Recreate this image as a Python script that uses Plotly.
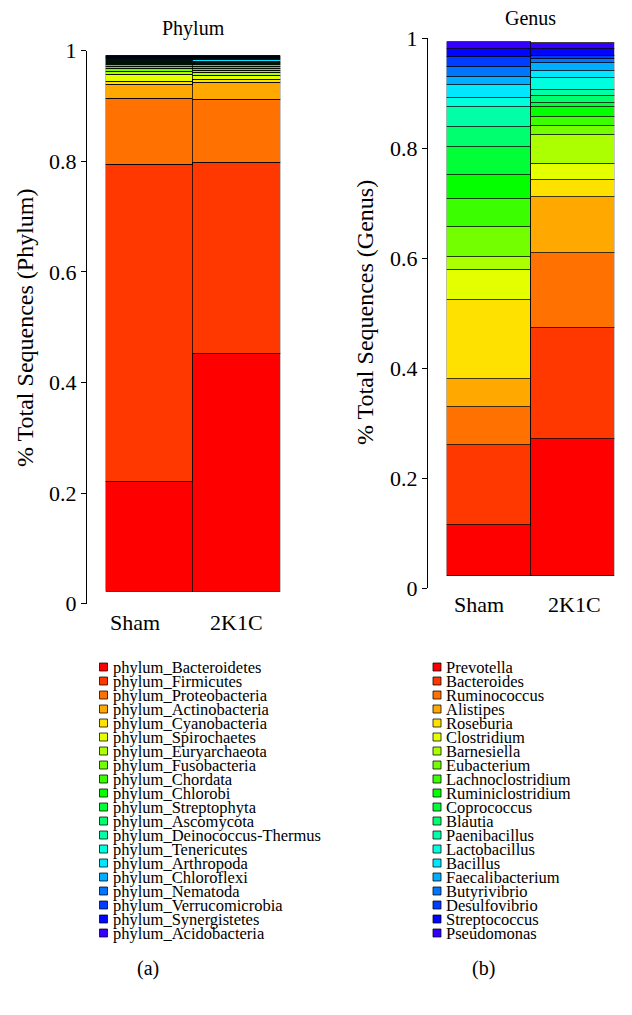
import colorsys
import plotly.graph_objects as go

# ---------------- data ----------------
groups = ["Sham", "2K1C"]

phylum_names = [
    "phylum_Bacteroidetes", "phylum_Firmicutes", "phylum_Proteobacteria",
    "phylum_Actinobacteria", "phylum_Cyanobacteria", "phylum_Spirochaetes",
    "phylum_Euryarchaeota", "phylum_Fusobacteria", "phylum_Chordata",
    "phylum_Chlorobi", "phylum_Streptophyta", "phylum_Ascomycota",
    "phylum_Deinococcus-Thermus", "phylum_Tenericutes", "phylum_Arthropoda",
    "phylum_Chloroflexi", "phylum_Nematoda", "phylum_Verrucomicrobia",
    "phylum_Synergistetes", "phylum_Acidobacteria",
]
phylum_sham = [0.2056, 0.5925, 0.1234, 0.0260, 0.0056, 0.0130, 0.0056, 0.0047,
               0.0037, 0.0037, 0.0028, 0.0019, 0.0019, 0.0013, 0.0015, 0.0019,
               0.0019, 0.0013, 0.0015, 0.0015]
phylum_2k1c = [0.4450, 0.3570, 0.1176, 0.0310, 0.0067, 0.0075, 0.0041, 0.0047,
               0.0037, 0.0037, 0.0028, 0.0019, 0.0022, 0.0030, 0.0022, 0.0019,
               0.0019, 0.0013, 0.0015, 0.0015]

genus_names = [
    "Prevotella", "Bacteroides", "Ruminococcus", "Alistipes", "Roseburia",
    "Clostridium", "Barnesiella", "Eubacterium", "Lachnoclostridium",
    "Ruminiclostridium", "Coprococcus", "Blautia", "Paenibacillus",
    "Lactobacillus", "Bacillus", "Faecalibacterium", "Butyrivibrio",
    "Desulfovibrio", "Streptococcus", "Pseudomonas",
]
genus_sham = [0.0955, 0.1500, 0.0720, 0.0510, 0.1490, 0.0560, 0.0240, 0.0570,
              0.0520, 0.0450, 0.0520, 0.0380, 0.0370, 0.0170, 0.0240, 0.0150,
              0.0190, 0.0190, 0.0150, 0.0130]
genus_2k1c = [0.2560, 0.2080, 0.1416, 0.1037, 0.0324, 0.0300, 0.0540, 0.0178,
              0.0159, 0.0185, 0.0090, 0.0118, 0.0125, 0.0210, 0.0140, 0.0146,
              0.0088, 0.0052, 0.0135, 0.0112]

y_ticks = [0, 0.2, 0.4, 0.6, 0.8, 1]
y_tick_text = ["0", "0.2", "0.4", "0.6", "0.8", "1"]

panel_titles = ["Phylum", "Genus"]
axis_titles = ["% Total Sequences (Phylum)", "% Total Sequences (Genus)"]
panel_labels = ["(a)", "(b)"]

# ---------------- styling helpers ----------------
# the page body has an 8px margin, so the figure starts at (8, 8) of the window
OFF = 8
W, H = 632 - OFF, 1015 - OFF
FONT = "Liberation Serif, Times New Roman, serif"


def rainbow(n, end=0.7):
    cols = []
    for i in range(n):
        r, g, b = colorsys.hsv_to_rgb(i / (n - 1) * end, 1, 1)
        cols.append(f"rgb({round(r * 255)},{round(g * 255)},{round(b * 255)})")
    return cols


def fx(px):
    return (px - OFF) / W


def fy(py):
    return 1 - (py - OFF) / H


def bar_range(dom_bottom, dom_top, bar0, bar1):
    # range of hidden bar axis so that 0 and 1 land on given pixel rows
    span = dom_bottom - dom_top
    p0 = (dom_bottom - bar0) / span
    p1 = (dom_bottom - bar1) / span
    width = 1 / (p1 - p0)
    a = -p0 * width
    return [a, a + width]


panels = [
    dict(names=phylum_names, vals=[phylum_sham, phylum_2k1c],
         x0=105.7, x1=280.3, axis_x=86, dom_b=603.7, dom_t=50.7, bar0=592.0, bar1=56.4,
         xa="x", ya="y", yt="y2", title_xy=(193, 28), ytitle_xy=(25, 328),
         xlab_y=622, xlab_shift=[-14, -0.5],
         leg_sq_x=103.5, leg_tx=111, lab_xy=(148, 968)),
    dict(names=genus_names, vals=[genus_sham, genus_2k1c],
         x0=446.7, x1=614.3, axis_x=427, dom_b=588.0, dom_t=38.0, bar0=576.0, bar1=42.3,
         xa="x3", ya="y3", yt="y4", title_xy=(530, 18), ytitle_xy=(365, 313),
         xlab_y=604, xlab_shift=[-10, 2.5],
         leg_sq_x=437, leg_tx=444, lab_xy=(483, 968)),
]

fig = go.Figure()
annotations = []
layout = dict(
    template="none",
    width=W, height=H, margin=dict(l=0, r=0, t=0, b=0, pad=0, autoexpand=False),
    paper_bgcolor="white", plot_bgcolor="rgba(0,0,0,0)",
    barmode="stack", bargap=0, showlegend=False,
    font=dict(family=FONT, color="black"),
)

LEG_Y0, LEG_DY = 667, 14

for k, p in enumerate(panels):
    cols = rainbow(len(p["names"]))
    for i, name in enumerate(p["names"]):
        fig.add_trace(go.Bar(
            x=groups, y=[p["vals"][0][i], p["vals"][1][i]], name=name,
            marker=dict(color=cols[i], line=dict(color="rgba(0,0,0,0.75)", width=1)),
            width=1, xaxis=p["xa"], yaxis=p["ya"], hoverinfo="name+y",
        ))
    # empty trace so the tick axis gets drawn
    fig.add_trace(go.Scatter(x=[], y=[], xaxis=p["xa"], yaxis=p["yt"],
                             hoverinfo="skip", mode="markers"))
    xkey = "xaxis" if p["xa"] == "x" else "xaxis" + p["xa"][1:]
    ykey = "yaxis" if p["ya"] == "y" else "yaxis" + p["ya"][1:]
    tkey = "yaxis" + p["yt"][1:]
    ydom = [fy(p["dom_b"]), fy(p["dom_t"])]
    layout[xkey] = dict(domain=[fx(p["x0"]), fx(p["x1"])], anchor=p["ya"],
                        range=[-0.5, 1.5], showline=False, showgrid=False,
                        zeroline=False, ticks="", showticklabels=False,
                        automargin=False, fixedrange=True)
    layout[ykey] = dict(domain=ydom, anchor=p["xa"],
                        range=bar_range(p["dom_b"], p["dom_t"], p["bar0"], p["bar1"]),
                        visible=False, automargin=False, fixedrange=True)
    layout[tkey] = dict(overlaying=p["ya"], anchor="free", position=fx(p["axis_x"]),
                        side="left", automargin=False,
                        range=[0, 1], tickvals=y_ticks, ticktext=y_tick_text,
                        showline=True, linecolor="black", linewidth=1,
                        ticks="outside", ticklen=5, tickwidth=1, tickcolor="black",
                        showgrid=False, zeroline=False,
                        tickfont=dict(size=22, family=FONT, color="black"),
                        fixedrange=True)

    # category labels under the bars
    for g, shift in zip(groups, p["xlab_shift"]):
        annotations.append(dict(
            x=g, xref=p["xa"], y=fy(p["xlab_y"]), yref="paper", text=g,
            showarrow=False, xanchor="center", yanchor="middle", xshift=shift,
            font=dict(size=22, family=FONT, color="black"),
        ))

    # legend squares
    fig.add_trace(go.Scatter(
        x=[p["leg_sq_x"]] * len(p["names"]),
        y=[LEG_Y0 + LEG_DY * i for i in range(len(p["names"]))],
        mode="markers", xaxis="x5", yaxis="y5", hoverinfo="skip",
        marker=dict(symbol="square", size=8, color=cols,
                    line=dict(color="rgba(0,0,0,0.75)", width=1)),
    ))
    for i, name in enumerate(p["names"]):
        annotations.append(dict(
            x=p["leg_tx"], y=LEG_Y0 + LEG_DY * i, xref="x5", yref="y5",
            text=name, showarrow=False, xanchor="left", yanchor="middle",
            font=dict(size=16.5, family=FONT, color="black"),
        ))
    tx, ty = p["title_xy"]
    annotations.append(dict(x=tx, y=ty, xref="x5", yref="y5", text=panel_titles[k],
                            showarrow=False, xanchor="center", yanchor="middle",
                            font=dict(size=20, family=FONT, color="black")))
    ax_, ay_ = p["ytitle_xy"]
    annotations.append(dict(x=ax_, y=ay_, xref="x5", yref="y5", text=axis_titles[k],
                            showarrow=False, textangle=-90, xanchor="center",
                            yanchor="middle", font=dict(size=24, family=FONT, color="black")))
    lx, ly = p["lab_xy"]
    annotations.append(dict(x=lx, y=ly, xref="x5", yref="y5", text=panel_labels[k],
                            showarrow=False, xanchor="center", yanchor="middle",
                            font=dict(size=20, family=FONT, color="black")))

# full-page helper axes in window-pixel units (legend and text placement)
layout["xaxis5"] = dict(domain=[0, 1], range=[OFF, OFF + W], visible=False,
                        anchor="y5", automargin=False, fixedrange=True)
layout["yaxis5"] = dict(domain=[0, 1], range=[OFF + H, OFF], visible=False,
                        anchor="x5", automargin=False, fixedrange=True)
layout["annotations"] = annotations
fig.update_layout(**layout)

fig.write_html("out.html")
